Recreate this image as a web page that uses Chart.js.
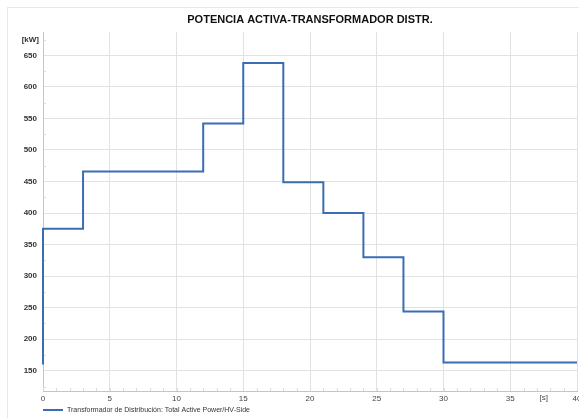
<!DOCTYPE html>
<html>
<head>
<meta charset="utf-8">
<script src="https://cdn.jsdelivr.net/npm/chart.js@4.4.0/dist/chart.umd.min.js"></script>
<style>
    html, body { margin: 0; padding: 0; background: #fff; }
    #wrap { position: relative; width: 579px; height: 418px; overflow: hidden; }
    #frame { position: absolute; left: 7px; top: 7px; width: 600px; height: 440px; border-left: 1px solid #e8e8e8; border-top: 1px solid #e8e8e8; }
    canvas { position: absolute; left: 0; top: 0; }
</style>
</head>
<body>
<div id="wrap">
    <div id="frame"></div>
    <canvas id="powerChart" width="579" height="418"></canvas>
</div>
<script>
// Potencia activa - transformador de distribución
const chartTitle = 'POTENCIA ACTIVA-TRANSFORMADOR DISTR.';
const seriesLabel = 'Transformador de Distribución: Total Active Power/HV-Side';
const timeS = [0, 0, 3, 12, 15, 18, 21, 24, 27, 30, 40];
const powerKW = [160, 375, 466, 542, 638, 449, 400, 330, 244, 163, 163];
const xTicks = [0, 5, 10, 15, 20, 25, 30, 35, 40];
const yTicks = [150, 200, 250, 300, 350, 400, 450, 500, 550, 600, 650];
const xUnit = '[s]';
const yUnit = '[kW]';

const lineColor = '#3a6db2';
const gridColor = '#e2e2e2';
const axisColor = '#c4c4c4';
const fontFamily = 'Liberation Sans, Arial, sans-serif';

// title, legend, unit labels and minor ticks
const decorPlugin = {
    id: 'decor',
    beforeDatasetsDraw(chart) {
        const ctx = chart.ctx;
        const xs = chart.scales.x, ys = chart.scales.y;
        const area = chart.chartArea;
        ctx.save();
        ctx.strokeStyle = '#dadada';
        ctx.lineWidth = 1;
        ctx.beginPath();
        for (let v = xs.min; v <= xs.max; v += 1) {
            const px = Math.round(xs.getPixelForValue(v)) + 0.5;
            ctx.moveTo(px, area.bottom);
            ctx.lineTo(px, area.bottom - 3);
        }
        for (let v = 125; v <= ys.max; v += 25) {
            if (v % 50 === 0) continue;
            const py = Math.round(ys.getPixelForValue(v)) + 0.5;
            ctx.moveTo(area.left, py);
            ctx.lineTo(area.left + 3, py);
        }
        ctx.stroke();
        ctx.restore();
    },
    afterDraw(chart) {
        const ctx = chart.ctx;
        const xs = chart.scales.x;
        ctx.save();

        // title
        ctx.fillStyle = '#111';
        ctx.font = `bold 11px ${fontFamily}`;
        ctx.textAlign = 'center';
        ctx.textBaseline = 'middle';
        ctx.fillText(chartTitle, 310, 20);

        // units
        ctx.font = `bold 8px ${fontFamily}`;
        ctx.textAlign = 'right';
        ctx.fillStyle = '#333';
        ctx.fillText(yUnit, 39, 40);
        ctx.font = `8px ${fontFamily}`;
        ctx.textAlign = 'center';
        ctx.fillStyle = '#444';
        ctx.fillText(xUnit, xs.getPixelForValue(37.5), 398);

        // legend
        ctx.strokeStyle = lineColor;
        ctx.lineWidth = 2;
        ctx.beginPath();
        ctx.moveTo(43, 410);
        ctx.lineTo(63, 410);
        ctx.stroke();
        ctx.fillStyle = '#333';
        ctx.font = `7px ${fontFamily}`;
        ctx.textAlign = 'left';
        ctx.fillText(seriesLabel, 67, 410);
        ctx.restore();
    }
};

new Chart(document.getElementById('powerChart'), {
    type: 'line',
    data: {
        datasets: [{
            label: seriesLabel,
            data: timeS.map((t, i) => ({ x: t, y: powerKW[i] })),
            stepped: 'before',
            borderColor: lineColor,
            borderWidth: 2,
            pointRadius: 0,
            fill: false,
            clip: 4
        }]
    },
    options: {
        responsive: false,
        animation: false,
        devicePixelRatio: 1,
        layout: { padding: { left: 0, right: 2, top: 32, bottom: 11 } },
        plugins: { legend: { display: false }, title: { display: false }, tooltip: { enabled: false } },
        scales: {
            x: {
                type: 'linear',
                min: 0,
                max: 40,
                afterBuildTicks: s => { s.ticks = xTicks.map(v => ({ value: v })); },
                afterFit: s => { s.height = 16; s.paddingLeft = 0; s.paddingRight = 0; },
                grid: { color: gridColor, drawTicks: false },
                border: { color: axisColor },
                ticks: { padding: 3, color: '#444', font: { family: fontFamily, size: 8 }, maxRotation: 0 }
            },
            y: {
                min: 118,
                max: 687,
                afterBuildTicks: s => { s.ticks = yTicks.map(v => ({ value: v })); },
                afterFit: s => { s.width = 43; s.paddingTop = 0; s.paddingBottom = 0; },
                grid: { color: gridColor, drawTicks: false },
                border: { color: axisColor },
                ticks: { padding: 6, color: '#333', font: { family: fontFamily, size: 8, weight: 'bold' } }
            }
        }
    },
    plugins: [decorPlugin]
});
</script>
</body>
</html>
